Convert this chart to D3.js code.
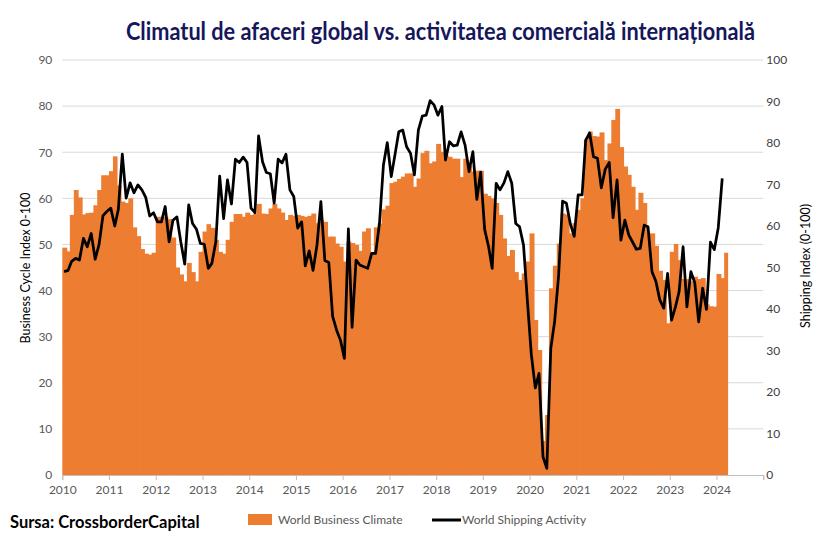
<!DOCTYPE html>
<html>
<head>
<meta charset="utf-8">
<script src="https://cdn.jsdelivr.net/npm/d3@7"></script>
<style>
  html, body { margin: 0; padding: 0; background: #fff; }
  svg { display: block; }
</style>
</head>
<body>
<svg id="chart" width="829" height="541"></svg>
<script>
// ---------- DATA ----------
const titleText = "Climatul de afaceri global vs. activitatea comercială internațională";
const sourceText = "Sursa: CrossborderCapital";
const seriesNames = ["World Business Climate", "World Shipping Activity"];
const leftAxisTitle = "Business Cycle Index 0-100";
const rightAxisTitle = "Shipping Index (0-100)";
const startYear = 2010, startMonth = 0; // January 2010, monthly data
const yearTicks = [2010,2011,2012,2013,2014,2015,2016,2017,2018,2019,2020,2021,2022,2023,2024,2025];
const yearLabels = ["2010","2011","2012","2013","2014","2015","2016","2017","2018","2019","2020","2021","2022","2023","2024"];
const leftTicks = [0,10,20,30,40,50,60,70,80,90];
const rightTicks = [0,10,20,30,40,50,60,70,80,90,100];

// World Business Climate (monthly, Jan 2010 - Mar 2024)
const businessClimate = [
  49.3,48.5,56.4,61.8,60.2,56.5,56.8,56.9,58.5,61.8,65.0,65.0,
  65.9,69.1,62.8,59.3,59.0,60.0,53.7,51.8,49.0,48.0,47.8,48.2,
  56.0,56.0,56.0,55.5,51.5,45.0,43.5,42.0,46.0,44.0,42.0,48.4,
  52.8,54.4,53.6,51.0,48.4,48.0,51.0,54.9,56.6,56.6,56.0,56.9,
  56.4,56.7,58.8,56.7,56.6,57.8,58.8,57.8,56.9,55.3,56.4,56.2,
  56.4,56.2,56.0,56.2,56.7,54.6,55.3,54.9,51.7,51.7,50.2,49.5,
  46.3,50.6,50.3,49.9,48.6,52.8,53.5,48.3,53.7,54.5,57.6,58.4,
  63.3,63.6,64.2,64.7,65.4,65.4,62.5,64.3,69.8,70.3,67.6,68.0,
  71.8,70.1,69.3,69.0,68.6,68.6,64.6,68.6,67.0,65.8,66.0,66.0,
  61.0,60.5,60.0,59.0,56.4,51.3,47.5,48.8,44.0,42.3,43.7,46.3,
  52.4,33.6,27.1,7.4,13.0,40.5,45.4,50.2,56.7,56.5,52.4,54.6,
  57.5,60.0,72.7,74.5,73.5,73.4,74.3,68.3,71.9,77.0,79.4,71.1,
  66.9,65.1,62.5,57.5,61.2,59.0,52.4,52.4,49.7,44.3,42.3,32.9,
  48.4,50.1,46.6,42.5,42.5,42.0,43.0,42.5,42.7,37.0,36.6,36.5,
  43.6,42.7,48.2
];

// World Shipping Activity (monthly, Jan 2010 - Feb 2024)
const shippingActivity = [
  49.0,49.3,51.5,52.2,51.8,57.0,55.0,58.2,52.0,55.5,62.5,63.5,
  64.3,60.0,64.0,77.3,66.7,70.4,68.0,69.9,68.7,66.9,62.4,63.2,
  61.0,61.0,64.7,56.2,61.4,62.2,56.2,50.8,65.1,60.6,59.2,55.8,
  55.6,49.8,51.0,56.2,72.0,61.8,71.1,65.3,76.1,75.3,76.6,75.3,
  64.3,63.2,81.7,75.5,72.9,72.6,65.5,76.1,75.2,77.3,68.7,67.1,
  59.5,61.0,50.4,54.0,49.3,55.5,65.9,51.7,51.2,38.2,34.9,32.5,
  28.1,59.3,35.6,51.8,50.6,50.2,49.8,53.4,53.4,60.6,74.7,80.1,
  71.9,77.5,82.7,83.1,79.1,77.5,72.3,83.1,86.5,86.7,90.2,89.2,
  86.7,88.8,75.9,80.3,79.3,79.5,82.7,79.5,73.1,77.9,66.4,73.0,
  59.2,55.0,49.8,70.3,68.7,70.4,73.1,70.3,60.6,59.8,55.4,42.0,
  29.0,21.0,24.5,4.4,1.6,30.5,37.0,48.0,66.0,65.5,60.5,57.5,
  67.5,67.5,80.7,82.4,76.7,76.3,69.2,73.7,75.3,62.0,71.1,56.6,
  61.4,57.8,56.2,54.4,54.6,60.2,59.8,49.0,46.6,42.2,40.2,48.6,
  37.3,40.6,44.2,55.0,40.5,49.0,46.4,36.9,45.0,39.9,56.1,54.3,
  59.6,71.5
];

// ---------- CHART ----------
const svg = d3.select("#chart");
const plot = { left: 62.3, right: 763.3, top: 60, bottom: 475 };
const orange = "#ED7D31";
const gray = "#595959";
const font = "Lato, 'Open Sans', sans-serif";

const monthDate = i => new Date(startYear, startMonth + i, 1);
const midDate = i => new Date(startYear, startMonth + i, 15);

const x = d3.scaleTime()
  .domain([new Date(yearTicks[0], 0, 1), new Date(yearTicks[yearTicks.length - 1], 0, 1)])
  .range([plot.left, plot.right]);
const yL = d3.scaleLinear().domain([0, 90]).range([plot.bottom, plot.top]);
const yR = d3.scaleLinear().domain([0, 100]).range([plot.bottom, plot.top]);

// gridlines
svg.append("g")
  .selectAll("line").data(leftTicks.filter(d => d > 0)).join("line")
  .attr("x1", plot.left).attr("x2", plot.right)
  .attr("y1", d => yL(d)).attr("y2", d => yL(d))
  .attr("stroke", "#d9d9d9").attr("stroke-width", 1);

// bars (slight overlap to avoid anti-aliasing seams)
const n = businessClimate.length;
svg.append("g")
  .selectAll("rect").data(businessClimate).join("rect")
  .attr("x", (d, i) => x(monthDate(i)))
  .attr("width", (d, i) => x(monthDate(i + 1)) - x(monthDate(i)) + (i < n - 1 ? 1 : 0))
  .attr("y", d => yL(d))
  .attr("height", d => yL(0) - yL(d))
  .attr("fill", orange);

// x axis
const xAxis = d3.axisBottom(x)
  .tickValues(yearTicks.map(y => new Date(y, 0, 1)))
  .tickSize(5)
  .tickFormat((d, i) => yearLabels[i] || "");
const gx = svg.append("g").attr("transform", `translate(0,${plot.bottom})`).call(xAxis);
gx.select(".domain").attr("stroke", "#bfbfbf");
gx.selectAll(".tick line").attr("stroke", "#bfbfbf");
gx.selectAll(".tick text").attr("fill", gray).attr("font-size", 12).attr("font-family", font).attr("dy", "0.95em");

// left axis
const gl = svg.append("g").attr("transform", `translate(${plot.left},0)`)
  .call(d3.axisLeft(yL).tickValues(leftTicks).tickSize(0).tickPadding(10));
gl.select(".domain").remove();
gl.selectAll("text").attr("fill", gray).attr("font-size", 12).attr("font-family", font);

// right axis
const gr = svg.append("g").attr("transform", `translate(${plot.right},0)`)
  .call(d3.axisRight(yR).tickValues(rightTicks).tickSize(0).tickPadding(3));
gr.select(".domain").remove();
gr.selectAll("text").attr("fill", "#404040").attr("font-size", 12).attr("font-family", font);

// line
const line = d3.line()
  .x((d, i) => x(midDate(i)))
  .y(d => yR(d))
  .curve(d3.curveLinear);
svg.append("path").datum(shippingActivity)
  .attr("d", line)
  .attr("fill", "none")
  .attr("stroke", "#000")
  .attr("stroke-width", 2.75)
  .attr("stroke-linejoin", "round");

// axis titles
svg.append("text")
  .attr("transform", "translate(30,268) rotate(-90)")
  .attr("text-anchor", "middle")
  .attr("font-family", font).attr("font-size", 12.5).attr("fill", "#000")
  .text(leftAxisTitle);
svg.append("text")
  .attr("transform", "translate(810,266) rotate(-90)")
  .attr("text-anchor", "middle")
  .attr("font-family", font).attr("font-size", 12.5).attr("fill", "#000")
  .text(rightAxisTitle);

function fit(sel, target) {
  const w = sel.node().getComputedTextLength();
  if (w > target) sel.attr("textLength", target).attr("lengthAdjust", "spacingAndGlyphs");
}

// title
const t = svg.append("text")
  .attr("x", 126).attr("y", 40)
  .attr("font-family", font).attr("font-weight", "bold").attr("font-size", 24)
  .attr("fill", "#16165c")
  .text(titleText);
fit(t, 629);

// source
const s = svg.append("text")
  .attr("x", 10).attr("y", 528)
  .attr("font-family", font).attr("font-weight", "bold").attr("font-size", 16.5)
  .attr("fill", "#000")
  .text(sourceText);
fit(s, 207);

// legend
const lg = svg.append("g");
lg.append("rect").attr("x", 248).attr("y", 514).attr("width", 24).attr("height", 11).attr("fill", orange);
lg.append("text").attr("x", 278).attr("y", 524)
  .attr("font-family", font).attr("font-size", 12).attr("fill", gray).text(seriesNames[0]);
lg.append("line").attr("x1", 432).attr("x2", 461).attr("y1", 520).attr("y2", 520)
  .attr("stroke", "#000").attr("stroke-width", 3);
lg.append("text").attr("x", 462).attr("y", 524)
  .attr("font-family", font).attr("font-size", 12).attr("fill", gray).text(seriesNames[1]);
</script>
</body>
</html>
